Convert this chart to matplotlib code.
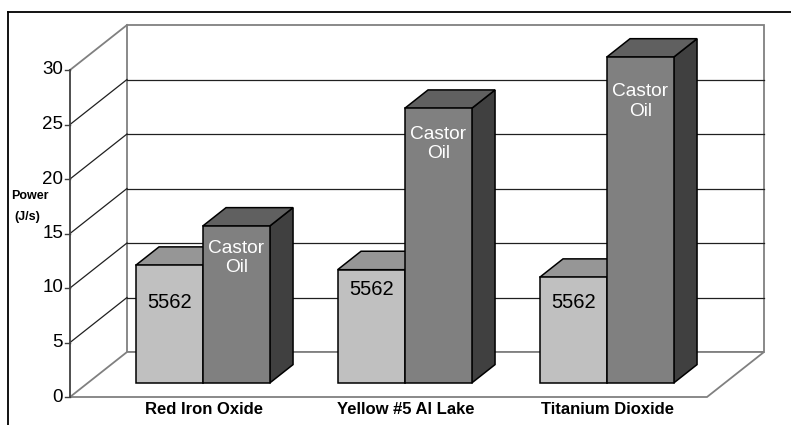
import matplotlib.pyplot as plt
from matplotlib.patches import Polygon
from matplotlib.lines import Line2D

plt.rcParams['font.family'] = ['Liberation Sans', 'DejaVu Sans']

categories = ["Red Iron Oxide", "Yellow #5 Al Lake", "Titanium Dioxide"]
series = ["5562", "Castor\nOil"]
vals_5562 = [10.8, 10.4, 9.7]
vals_castor = [14.4, 25.2, 29.9]
yticks = [0, 5, 10, 15, 20, 25, 30]

# label heights inside the bars (value units, front plane)
lab_5562 = [8.7, 9.9, 8.7]
lab_castor = [12.75, 23.2, 27.1]

# geometry of the fake 3d box (pixel-ish x, value y)
PPU = 10.9               # pixels per value unit
V0 = 397                 # pixel row of value 0 on front plane
DX, DV = 57, 45 / PPU    # depth offset of back wall
X0, X1 = 70, 707         # floor front left/right
D0, D1 = 0.31, 0.72      # bar depth range
W = 67                   # bar width
centers = [185 + 202 * i for i in range(len(categories))]

fig = plt.figure(figsize=(7.91, 4.25), dpi=100)
ax = fig.add_axes([0, 0, 1, 1])
ax.set_xlim(0, 791)
ax.set_ylim((V0 - 425) / PPU, V0 / PPU)
ax.axis('off')

grey = '#808080'

# back wall
ax.add_patch(Polygon([(X0 + DX, DV), (X1 + DX, DV), (X1 + DX, 30 + DV), (X0 + DX, 30 + DV)],
                     closed=True, fc='white', ec=grey, lw=1.3, zorder=1))
# floor
ax.add_patch(Polygon([(X0, 0), (X1, 0), (X1 + DX, DV), (X0 + DX, DV)],
                     closed=True, fc='white', ec=grey, lw=1.3, zorder=1))

for v in yticks:
    if 0 < v < 30:
        ax.plot([X0 + DX, X1 + DX], [v + DV, v + DV], color='#202020', lw=0.9, zorder=2)
        ax.plot([X0, X0 + DX], [v, v + DV], color='#202020', lw=0.9, zorder=2)
    ax.plot([X0 - 5, X0], [v, v], color='#404040', lw=1, zorder=2)
    ax.text(X0 - 7, v, str(v), ha='right', va='center', fontsize=13.5, color='black')
ax.plot([X0, X0 + DX], [30, 30 + DV], color=grey, lw=1.3, zorder=2)
ax.plot([X0, X0], [0, 30], color='#404040', lw=1.3, zorder=2)

ax.text(30, (V0 - 196) / PPU, "Power", ha='center', va='center', fontsize=9, fontweight='bold')
ax.text(27, (V0 - 217) / PPU, "(J/s)", ha='center', va='center', fontsize=9, fontweight='bold')


def bar(xl, val, front, top, side):
    xr = xl + W
    f = [(xl + D0 * DX, D0 * DV), (xr + D0 * DX, D0 * DV),
         (xr + D0 * DX, val + D0 * DV), (xl + D0 * DX, val + D0 * DV)]
    t = [(xl + D0 * DX, val + D0 * DV), (xr + D0 * DX, val + D0 * DV),
         (xr + D1 * DX, val + D1 * DV), (xl + D1 * DX, val + D1 * DV)]
    s = [(xr + D0 * DX, D0 * DV), (xr + D1 * DX, D1 * DV),
         (xr + D1 * DX, val + D1 * DV), (xr + D0 * DX, val + D0 * DV)]
    for poly, c in ((s, side), (t, top), (f, front)):
        ax.add_patch(Polygon(poly, closed=True, fc=c, ec='black', lw=1.1, zorder=3))


for i, c in enumerate(centers):
    bar(c - W, vals_5562[i], '#c0c0c0', '#969696', '#808080')
    bar(c, vals_castor[i], '#808080', '#606060', '#404040')
    ax.text(c - W / 2 + D0 * DX, lab_5562[i], series[0], ha='center', va='center',
            fontsize=14.5, color='black', zorder=4)
    ax.text(c + W / 2 + D0 * DX, lab_castor[i], series[1], ha='center', va='center',
            fontsize=13.8, color='white', linespacing=1.2, zorder=4)
    ax.text(c + D0 * DX + 1, (V0 - 410) / PPU, categories[i], ha='center', va='center',
            fontsize=12, fontweight='bold')

# outer frame
fig.add_artist(Line2D([8 / 791, 1], [1 - 12 / 425, 1 - 12 / 425], color='black', lw=1.3))
fig.add_artist(Line2D([8 / 791, 8 / 791], [0, 1 - 12 / 425], color='black', lw=1.3))

plt.savefig("out.png", dpi=100)
